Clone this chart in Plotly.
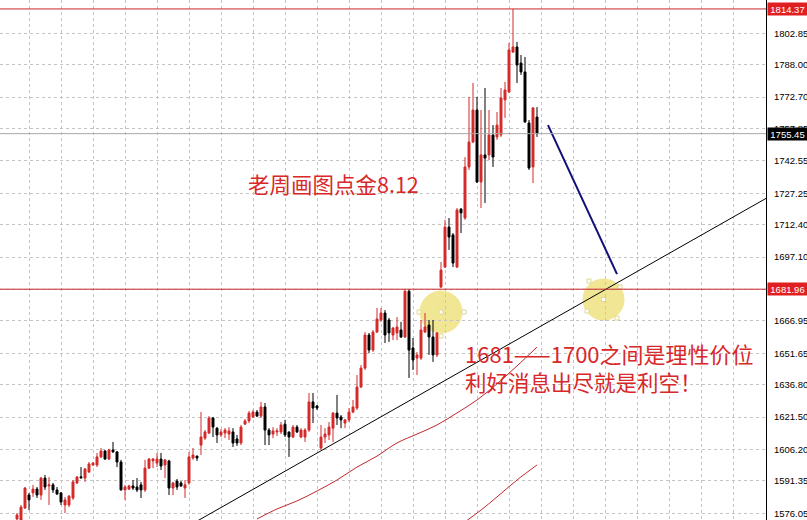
import plotly.graph_objects as go

# Gold hourly candles (oldest -> newest)
open_ = [1573.4, 1572.9, 1578.6, 1584.7, 1585.7, 1587.5, 1584.7, 1592.7, 1589.0, 1589.5,
         1587.1, 1585.7, 1580.0, 1580.0, 1583.3, 1590.4, 1593.3, 1592.7, 1595.6, 1598.9,
         1598.9, 1602.7, 1605.5, 1601.7, 1606.0, 1605.1, 1600.3, 1587.1, 1587.5, 1589.0,
         1588.5, 1589.5, 1587.1, 1597.4, 1600.8, 1599.8, 1601.7, 1598.9, 1600.8, 1588.0,
         1591.3, 1590.4, 1588.0, 1590.4, 1602.2, 1603.1, 1608.3, 1611.6, 1614.0, 1621.1,
         1616.3, 1613.1, 1614.0, 1613.5, 1614.5, 1611.2, 1609.3, 1618.2, 1619.7, 1621.6,
         1623.9, 1622.0, 1626.3, 1615.4, 1613.5, 1614.5, 1614.5, 1618.2, 1614.5, 1612.1,
         1616.8, 1612.1, 1612.1, 1615.4, 1628.7, 1626.8, 1606.9, 1612.1, 1613.1, 1616.3,
         1623.4, 1621.6, 1618.7, 1620.2, 1623.9, 1625.8, 1635.7, 1644.7, 1660.3, 1653.2,
         1661.7, 1667.4, 1670.7, 1667.4, 1660.3, 1661.3, 1662.7, 1659.4, 1681.0, 1654.2,
         1649.4, 1649.4, 1661.7, 1665.0, 1659.4, 1650.9, 1683.0, 1692.4, 1711.3, 1707.6,
         1692.4, 1719.8, 1715.6, 1739.7, 1751.5, 1766.6, 1732.6, 1745.4, 1745.4, 1754.8,
         1753.9, 1754.8, 1771.4, 1775.1, 1794.0, 1796.4, 1788.8, 1784.6, 1760.5, 1739.7,
         1763.3]
high = [1576.2, 1580.0, 1588.5, 1585.7, 1589.5, 1588.5, 1593.2, 1594.2, 1593.2, 1590.4,
        1588.5, 1586.1, 1583.8, 1584.7, 1591.8, 1593.7, 1597.9, 1597.5, 1600.3, 1600.3,
        1604.6, 1606.9, 1606.0, 1606.5, 1609.8, 1605.1, 1601.3, 1589.5, 1589.5, 1591.8,
        1592.7, 1590.9, 1601.3, 1602.2, 1602.2, 1604.6, 1604.6, 1601.7, 1601.3, 1590.9,
        1592.3, 1591.3, 1591.8, 1605.0, 1606.9, 1603.3, 1623.9, 1615.4, 1622.0, 1621.6,
        1616.8, 1615.9, 1616.3, 1616.8, 1616.3, 1613.1, 1617.8, 1620.6, 1624.4, 1624.9,
        1624.9, 1628.7, 1628.2, 1616.3, 1616.8, 1616.3, 1619.2, 1620.2, 1614.6, 1617.8,
        1617.8, 1616.3, 1616.3, 1632.9, 1632.9, 1627.2, 1617.8, 1616.3, 1619.2, 1623.9,
        1632.0, 1622.5, 1620.6, 1625.8, 1629.6, 1641.4, 1646.1, 1661.7, 1661.3, 1662.7,
        1673.1, 1673.1, 1672.1, 1668.4, 1664.1, 1668.8, 1666.5, 1682.0, 1681.9, 1658.9,
        1652.3, 1667.4, 1670.7, 1667.4, 1667.4, 1661.7, 1694.8, 1714.7, 1715.6, 1708.5,
        1720.3, 1720.3, 1744.4, 1772.8, 1779.4, 1772.8, 1766.6, 1777.0, 1766.6, 1759.5,
        1765.7, 1777.0, 1779.9, 1798.3, 1814.37, 1798.8, 1792.6, 1791.7, 1761.9, 1768.0,
        1768.0]
low = [1572.0, 1572.0, 1578.1, 1577.6, 1583.8, 1583.3, 1582.4, 1587.1, 1580.0, 1585.7,
       1584.7, 1580.0, 1576.2, 1579.0, 1582.4, 1589.9, 1592.7, 1590.9, 1595.1, 1598.4,
       1597.9, 1602.2, 1601.3, 1601.3, 1604.6, 1597.9, 1586.8, 1582.4, 1587.1, 1587.1,
       1586.1, 1583.3, 1586.1, 1597.0, 1597.4, 1597.9, 1596.5, 1592.7, 1584.7, 1584.7,
       1587.1, 1588.5, 1583.3, 1589.5, 1601.3, 1600.8, 1603.6, 1610.7, 1613.5, 1612.1,
       1609.3, 1612.1, 1611.6, 1610.7, 1607.4, 1607.9, 1608.3, 1617.8, 1618.7, 1621.1,
       1621.6, 1621.1, 1608.3, 1608.3, 1611.6, 1612.6, 1613.5, 1612.1, 1602.7, 1611.6,
       1614.0, 1611.6, 1609.8, 1614.5, 1618.7, 1624.9, 1606.0, 1609.3, 1610.7, 1609.8,
       1617.8, 1616.3, 1616.3, 1619.2, 1623.4, 1624.9, 1635.3, 1643.8, 1651.8, 1652.3,
       1661.3, 1666.5, 1656.5, 1657.0, 1657.9, 1657.9, 1658.9, 1658.9, 1640.0, 1643.8,
       1641.4, 1648.5, 1661.3, 1650.9, 1647.6, 1649.9, 1682.5, 1692.0, 1700.5, 1692.4,
       1692.0, 1708.5, 1714.7, 1738.3, 1751.0, 1732.1, 1720.3, 1722.7, 1743.0, 1739.7,
       1752.5, 1753.9, 1762.9, 1774.7, 1793.6, 1779.4, 1783.2, 1760.5, 1738.3, 1732.1,
       1753.9]
close = [1575.3, 1579.0, 1588.0, 1582.4, 1587.5, 1584.7, 1592.7, 1588.5, 1589.5, 1587.1,
         1585.2, 1581.4, 1582.4, 1584.2, 1590.9, 1593.2, 1592.8, 1597.0, 1599.4, 1599.8,
         1602.7, 1605.5, 1601.7, 1606.0, 1605.1, 1600.3, 1587.1, 1588.5, 1589.0, 1588.0,
         1587.1, 1587.1, 1597.4, 1601.7, 1601.7, 1601.7, 1598.4, 1601.3, 1588.0, 1590.4,
         1588.5, 1589.0, 1589.5, 1602.7, 1603.6, 1602.2, 1612.1, 1614.5, 1621.1, 1616.8,
         1613.1, 1614.5, 1615.4, 1615.0, 1609.3, 1609.3, 1616.8, 1619.7, 1623.4, 1623.9,
         1622.0, 1626.3, 1615.4, 1613.1, 1615.0, 1615.0, 1617.8, 1613.1, 1612.1, 1616.8,
         1614.5, 1615.4, 1615.4, 1628.7, 1625.8, 1625.8, 1612.1, 1613.5, 1616.8, 1623.4,
         1621.1, 1620.2, 1620.2, 1623.9, 1626.3, 1635.7, 1644.7, 1660.3, 1653.2, 1661.7,
         1667.9, 1670.7, 1660.3, 1661.3, 1663.6, 1664.1, 1659.4, 1681.0, 1653.2, 1648.5,
         1650.9, 1662.7, 1664.1, 1659.4, 1650.9, 1661.3, 1691.0, 1711.3, 1706.6, 1694.3,
         1719.4, 1718.0, 1739.7, 1751.5, 1766.6, 1732.6, 1745.4, 1743.9, 1754.8, 1744.4,
         1759.5, 1772.3, 1776.1, 1795.0, 1796.4, 1787.9, 1784.6, 1761.0, 1739.2, 1767.6,
         1755.45]
bar_index = list(range(len(close)))

# Moving averages (sampled points)
ma_slow_x = [60, 65, 70, 75, 80, 85, 90, 95, 100, 105, 110, 115, 120, 125, 130]
ma_slow_y = [1573.4, 1578.1, 1581.9, 1586.6, 1591.8, 1597.9, 1603.1, 1609.3, 1613.5,
             1617.8, 1623.5, 1629.6, 1637.2, 1645.7, 1654.6]
ma_slower_x = [110, 113, 116, 120, 125, 130]
ma_slower_y = [1569.1, 1573.4, 1577.6, 1583.8, 1591.8, 1598.9]

# Drawn lines: rising support and projected pullback
support_x = [40, 190]
support_y = [1567.0, 1727.8]
pullback_x = [132.75, 150.0]
pullback_y = [1759.5, 1689.1]

# Price levels
session_high = 1814.37
key_level = 1681.96
last_price = 1755.45

# Right-hand price scale (the 1681.80 line sits under the key-level tag, so no text)
tick_values = [1818.15, 1802.85, 1788.00, 1772.70, 1757.85, 1742.55, 1727.25, 1712.40,
               1697.10, 1681.80, 1666.95, 1651.65, 1636.80, 1621.50, 1606.20, 1591.35,
               1576.05]
tick_labels = ["" if v == 1681.80 else f"{v:.2f}" for v in tick_values]

RED = "#d42a2a"
LEVEL_RED = "#c8262b"
TEXT_RED = "#d8282a"
GRID = "#c4c4c4"

fig = go.Figure()

fig.add_trace(go.Candlestick(
    x=bar_index, open=open_, high=high, low=low, close=close,
    increasing=dict(line=dict(color=RED, width=1), fillcolor=RED),
    decreasing=dict(line=dict(color="black", width=1), fillcolor="black"),
    whiskerwidth=0, hoverinfo="skip", showlegend=False,
))

fig.add_trace(go.Scatter(x=ma_slow_x, y=ma_slow_y, mode="lines", line=dict(color="#c0282d", width=1, shape="spline"),
                         hoverinfo="skip", showlegend=False))
fig.add_trace(go.Scatter(x=ma_slower_x, y=ma_slower_y, mode="lines", line=dict(color="#c0282d", width=1, shape="spline"),
                         hoverinfo="skip", showlegend=False))
fig.add_trace(go.Scatter(x=support_x, y=support_y, mode="lines", line=dict(color="black", width=1),
                         hoverinfo="skip", showlegend=False))
fig.add_trace(go.Scatter(x=pullback_x, y=pullback_y, mode="lines", line=dict(color="#10107a", width=2),
                         hoverinfo="skip", showlegend=False))

W_PLOT = 766.0
H_PLOT = 520.0


def px_x(p):
    return p / W_PLOT


def px_y(p):
    return 1 - p / H_PLOT


# Highlight circles
for cx, cy, r in [(441, 312, 21.5), (603.5, 299.5, 21)]:
    fig.add_shape(type="circle", xref="paper", yref="paper",
                  x0=px_x(cx - r), x1=px_x(cx + r), y0=px_y(cy + r), y1=px_y(cy - r),
                  fillcolor="rgba(238,226,128,0.85)", line=dict(width=0), layer="between")

# Selection handles of the circles
handles = [(441, 312), (419, 312), (464, 312), (441, 336),
           (603.5, 299.5), (589, 281), (620, 287), (587, 311), (617, 318)]
for hx, hy in handles:
    fig.add_shape(type="rect", xref="paper", yref="paper",
                  x0=px_x(hx - 2), x1=px_x(hx + 2), y0=px_y(hy + 2), y1=px_y(hy - 2),
                  fillcolor="white", line=dict(color="#e0d890", width=1), layer="above")

# Horizontal levels
for level, color in [(session_high, LEVEL_RED), (key_level, LEVEL_RED), (last_price, "#a8a8a8")]:
    fig.add_shape(type="line", xref="paper", yref="y", x0=0, x1=1, y0=level, y1=level,
                  line=dict(color=color, width=1), layer="above")

# Price tags on the scale
for level, bg in [(session_high, "#e02020"), (key_level, "#e02020"), (last_price, "black")]:
    fig.add_annotation(xref="paper", yref="y", x=1, y=level, xanchor="left", yanchor="middle",
                       xshift=1, text=f"{level:.2f}", showarrow=False,
                       font=dict(family="Liberation Sans, Arial", size=9.5, color="white"),
                       bgcolor=bg, width=39, height=12, borderpad=0)

# Commentary
fig.add_annotation(xref="paper", yref="paper", x=px_x(246), y=px_y(183), xanchor="left", yanchor="middle",
                   text="老周画图点金8.12", showarrow=False,
                   font=dict(family="Noto Sans CJK SC", size=21.5, color=TEXT_RED))
fig.add_annotation(xref="paper", yref="paper", x=px_x(463), y=px_y(353), xanchor="left", yanchor="middle",
                   text="1681——1700之间是理性价位", showarrow=False,
                   font=dict(family="Noto Sans CJK SC", size=22, color=TEXT_RED))
fig.add_annotation(xref="paper", yref="paper", x=px_x(463), y=px_y(381), xanchor="left", yanchor="middle",
                   text="利好消息出尽就是利空！", showarrow=False,
                   font=dict(family="Noto Sans CJK SC", size=21.5, color=TEXT_RED))

fig.update_layout(
    width=807, height=520,
    margin=dict(l=0, r=41, t=0, b=0),
    paper_bgcolor="white", plot_bgcolor="white",
    showlegend=False,
)
fig.update_xaxes(
    range=[-4.25, 187.25], rangeslider_visible=False,
    showticklabels=False, ticks="",
    tickmode="linear", tick0=3, dtick=8,
    showgrid=True, gridcolor=GRID, griddash="3px,3px", gridwidth=1,
    zeroline=False, showline=False,
)
fig.update_yaxes(
    range=[1572.9, 1818.6], side="right",
    tickmode="array", tickvals=tick_values, ticktext=tick_labels,
    tickfont=dict(family="Liberation Sans, Arial", size=9.5, color="black"),
    ticks="", ticklabelstandoff=5,
    showgrid=True, gridcolor=GRID, griddash="3px,3px", gridwidth=1,
    zeroline=False, showline=True, linecolor="black", linewidth=1,
)

fig.write_html("out.html")
